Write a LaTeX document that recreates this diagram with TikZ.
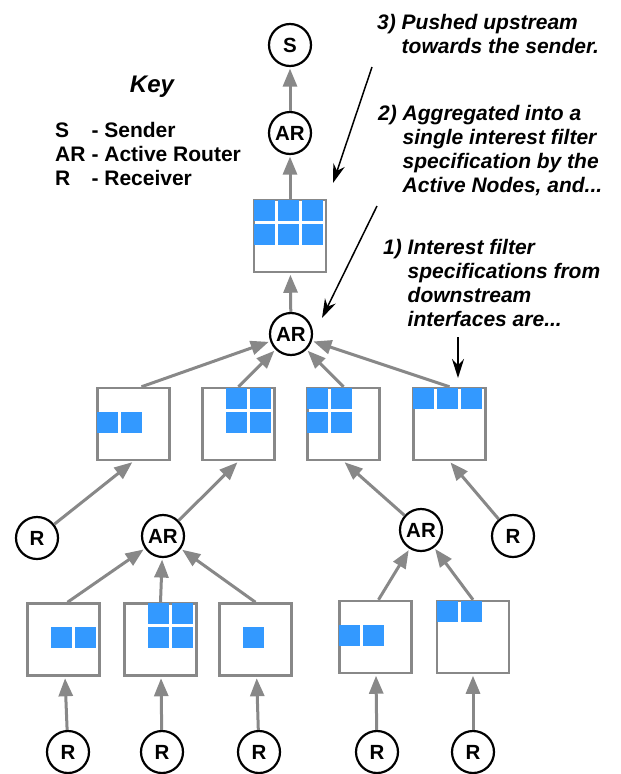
\documentclass[tikz,border=0pt]{standalone}
\usepackage{fontspec}
\setmainfont{Liberation Sans}
\usepackage{tikz}
\definecolor{flowgray}{RGB}{136,136,136}
\definecolor{filterblue}{RGB}{51,153,255}
\usetikzlibrary{arrows.meta}

\newcommand{\notefont}{\fontsize{21}{24.3}\selectfont\bfseries\itshape}
\newcommand{\keyfont}{\fontsize{21}{24}\selectfont\bfseries}
% blue cells of a filter box, given as col/row
\newcommand{\fillcells}[2]{%
  \foreach \cx/\cy in {#2}
    \fill[filterblue] ([shift={(1+24*\cx-24,1+24*\cy-24)}]#1.north west) rectangle +(21,21);}

\begin{document}
\begin{tikzpicture}[x=1pt, y=-1pt,
    router/.style={draw, circle, line width=2.2pt, minimum size=42pt, inner sep=0pt, font=\fontsize{20.5}{20.5}\selectfont\bfseries},
    filterbox/.style={draw=flowgray, fill=white, line width=2.5pt, minimum size=72pt, inner sep=0pt},
    flow/.style={-{Triangle[length=18pt,width=14pt]}, line width=3pt, flowgray, shorten >=1.5pt},
    pointer/.style={-{Stealth[length=19pt,width=12pt]}, line width=1.5pt, black}]
    \useasboundingbox (0,0) rectangle (621,774);

    % key
    \node[anchor=base, inner sep=0pt, font=\fontsize{24}{24}\selectfont\bfseries\itshape] (keytitle) at (152,92) {Key};
    \node[anchor=base west, inner sep=0pt] (legend) at (55,137) {\keyfont\begin{tabular}[t]{@{}l@{\hspace{6pt}}l@{}}S & - Sender\\ AR & - Active Router\\ R & - Receiver\end{tabular}};

    % routers
    \node[router] (sender) at (290,45) {S};
    \node[router] (artop) at (290,133) {AR};
    \node[router] (armid) at (291,334) {AR};
    \node[router] (rxl) at (37,538) {R};
    \node[router] (arl) at (163,536) {AR};
    \node[router] (arr) at (421,530) {AR};
    \node[router] (rxr) at (513,536) {R};
    \node[router] (rxa) at (68,752) {R};
    \node[router] (rxb) at (162,752) {R};
    \node[router] (rxc) at (259,752) {R};
    \node[router] (rxd) at (377,752) {R};
    \node[router] (rxe) at (473,752) {R};

    % filter boxes
    \node[filterbox] (merged) at (290,236) {};
    \node[filterbox] (ifA) at (133.5,424) {};
    \node[filterbox] (ifB) at (238.5,424) {};
    \node[filterbox] (ifC) at (343.5,424) {};
    \node[filterbox] (ifD) at (449.5,424) {};
    \node[filterbox] (ifa) at (63.5,639.5) {};
    \node[filterbox] (ifb) at (160.5,639.5) {};
    \node[filterbox] (ifc) at (255.5,639.5) {};
    \node[filterbox] (ifd) at (375.5,637) {};
    \node[filterbox] (ife) at (473,637) {};

    \fillcells{merged}{1/1,2/1,3/1,1/2,2/2,3/2}
    \fillcells{ifA}{1/2,2/2}
    \fillcells{ifB}{2/1,3/1,2/2,3/2}
    \fillcells{ifC}{1/1,2/1,1/2,2/2}
    \fillcells{ifD}{1/1,2/1,3/1}
    \fillcells{ifa}{2/2,3/2}
    \fillcells{ifb}{2/1,3/1,2/2,3/2}
    \fillcells{ifc}{2/2}
    \fillcells{ifd}{1/2,2/2}
    \fillcells{ife}{1/1,2/1}

    % upstream flow
    \draw[flow] (artop) -- (sender);
    \draw[flow] (merged) -- (artop);
    \draw[flow] (armid) -- (merged);
    \draw[flow] ([xshift=8pt]ifA.north) -- (armid);
    \draw[flow] (ifB.north) -- (armid);
    \draw[flow] (ifC.north) -- (armid);
    \draw[flow] (ifD.north) -- (armid);
    \draw[flow] (rxl) -- (ifA.south);
    \draw[flow] (arl) -- (ifB.south);
    \draw[flow] (arr) -- (ifC.south);
    \draw[flow] (rxr) -- (ifD.south);
    \draw[flow] ([xshift=4pt]ifa.north) -- (arl);
    \draw[flow] (ifb.north) -- (arl);
    \draw[flow] (ifc.north) -- (arl);
    \draw[flow] ([xshift=3pt]ifd.north) -- (arr);
    \draw[flow] (ife.north) -- (arr);
    \draw[flow] (rxa) -- (ifa);
    \draw[flow] (rxb) -- (ifb);
    \draw[flow] (rxc) -- (ifc);
    \draw[flow] (rxd) -- (ifd);
    \draw[flow] (rxe) -- (ife);

    % notes
    \node[anchor=base west, inner sep=0pt] (note3) at (377,29) {\notefont\begin{tabular}[t]{@{}l@{\ }l@{}}3) & Pushed upstream\\ & towards the sender.\end{tabular}};
    \node[anchor=base west, inner sep=0pt] (note2) at (378,120) {\notefont\begin{tabular}[t]{@{}l@{\ }l@{}}2) & Aggregated into a\\ & single interest filter\\ & specification by the\\ & Active Nodes, and...\end{tabular}};
    \node[anchor=base west, inner sep=0pt] (note1) at (383,254) {\notefont\begin{tabular}[t]{@{}l@{\ }l@{}}1) & Interest filter\\ & specifications from\\ & downstream\\ & interfaces are...\end{tabular}};

    \coordinate (n3from) at (372,67);
    \coordinate (n3to) at (333,183);
    \coordinate (n2from) at (377,206);
    \coordinate (n2to) at (322,318);
    \coordinate (n1from) at (458,337);
    \coordinate (n1to) at (458,378);
    \draw[pointer] (n3from) -- (n3to);
    \draw[pointer] (n2from) -- (n2to);
    \draw[pointer] (n1from) -- (n1to);
\end{tikzpicture}
\end{document}
